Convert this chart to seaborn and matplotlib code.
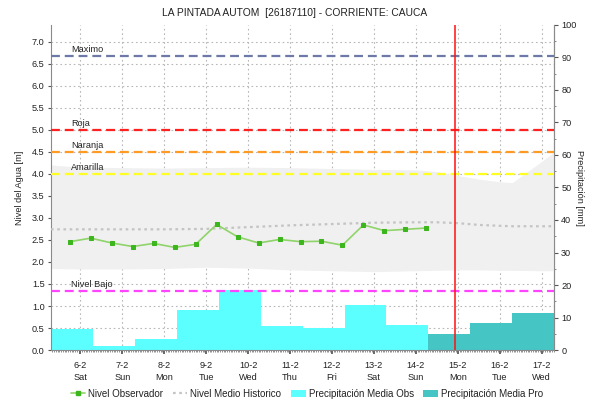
import matplotlib
matplotlib.use("Agg")
import matplotlib.pyplot as plt
from matplotlib.lines import Line2D
from matplotlib.patches import Patch
from matplotlib.ticker import MultipleLocator
import seaborn as sns
import pandas as pd

sns.set_theme(style="white")
plt.rcParams["font.family"] = ["Liberation Sans", "DejaVu Sans"]

# ---- data (x in day-of-month, February) ----
title = "LA PINTADA AUTOM  [26187110] - CORRIENTE: CAUCA"

obs_time = [5.75, 6.25, 6.75, 7.25, 7.75, 8.25, 8.75, 9.25, 9.75,
            10.25, 10.75, 11.25, 11.75, 12.25, 12.75, 13.25, 13.75, 14.25]
obs_level = [2.46, 2.54, 2.43, 2.35, 2.42, 2.33, 2.40, 2.85, 2.57,
             2.43, 2.51, 2.46, 2.47, 2.38, 2.84, 2.71, 2.74, 2.77]

hist_time = [5.3, 6, 7, 8, 9, 10, 11, 12, 13, 14, 14.5, 15, 15.5, 16, 16.3, 17, 17.3]
hist_median = [2.74, 2.74, 2.74, 2.74, 2.75, 2.79, 2.83, 2.86, 2.89, 2.90, 2.90,
               2.88, 2.84, 2.82, 2.81, 2.81, 2.81]
hist_upper = [4.20, 4.15, 4.14, 4.13, 4.14, 4.15, 4.14, 4.12, 4.10, 4.09, 4.05,
              3.96, 3.88, 3.82, 3.80, 4.28, 4.50]
hist_lower = [1.85, 1.84, 1.84, 1.85, 1.88, 1.86, 1.82, 1.80, 1.78, 1.80, 1.81,
              1.82, 1.82, 1.81, 1.81, 1.80, 1.80]

obs_days = [6, 7, 8, 9, 10, 11, 12, 13, 14]
obs_precip = [6.4, 1.3, 3.5, 12.4, 18.4, 7.5, 6.7, 13.8, 7.7]
pro_days = [15, 16, 17]
pro_precip = [4.9, 8.4, 11.5]

thr_names = ["Maximo", "Roja", "Naranja", "Amarilla", "Nivel Bajo"]
thr_levels = [6.68, 5.0, 4.5, 4.0, 1.35]
thr_colors = ["#6d7aa8", "#ff2020", "#ff9a22", "#ffff22", "#ff44ff"]

tick_days = [6, 7, 8, 9, 10, 11, 12, 13, 14, 15, 16, 17]
tick_names = ["Sat", "Sun", "Mon", "Tue", "Wed", "Thu", "Fri",
              "Sat", "Sun", "Mon", "Tue", "Wed"]
now_day = 14.93

level_max = 7.38
precip_max = 100.0


def mm_to_m(v):
    return v * level_max / precip_max


def m_to_mm(v):
    return v * precip_max / level_max


fig = plt.figure(figsize=(5.90, 4.01), dpi=100)
ax = fig.add_axes([0.0864, 0.127, 0.853, 0.811])
ax.set_xlim(5.3, 17.3)
ax.set_ylim(0, level_max)

txt = "#222222"
# grid
ax.xaxis.set_major_locator(plt.FixedLocator(tick_days))
ax.yaxis.set_major_locator(MultipleLocator(0.5))
ax.grid(True, which="major", color="#b8b8b8", linestyle=(0, (1.5, 2.5)), linewidth=0.8, zorder=0)

# historical band
ax.fill_between(hist_time, hist_lower, hist_upper, color="#f0f0f0", linewidth=0, zorder=1)

# precipitation bars (day window ends in the morning of the labelled day)
ax.bar([d - 0.7 for d in obs_days], [mm_to_m(v) for v in obs_precip], width=1.0,
       align="edge", color="#5cffff", linewidth=0, zorder=2)
ax.bar([d - 0.7 for d in pro_days], [mm_to_m(v) for v in pro_precip], width=1.0,
       align="edge", color="#46c5c5", linewidth=0, zorder=2)

# historical median
med = pd.DataFrame({"t": hist_time, "v": hist_median})
sns.lineplot(data=med, x="t", y="v", ax=ax, color="#c4c4c4",
             linestyle=(0, (1.2, 1.6)), linewidth=1.6, zorder=3)

# threshold lines and labels
for name, lvl, col in zip(thr_names, thr_levels, thr_colors):
    ax.axhline(lvl, color=col, linestyle=(0, (4, 2.2)), linewidth=1.6, zorder=4)
    ax.text(5.78, lvl + 0.04, name, fontsize=6.6, color=txt, va="bottom", ha="left", zorder=6)

# observed level
obs = pd.DataFrame({"t": obs_time, "v": obs_level})
sns.lineplot(data=obs, x="t", y="v", ax=ax, color="#8fd36a", linewidth=1.2,
             marker="s", markersize=2.8, markerfacecolor="#3db61e",
             markeredgecolor="#3db61e", zorder=5)

# current time marker
ax.axvline(now_day, color="#ff1010", linewidth=1.1, zorder=6)

# axes styling
ax.spines["top"].set_visible(False)
for s in ["left", "bottom", "right"]:
    ax.spines[s].set_color("#8a8a8a")
    ax.spines[s].set_linewidth(0.8)

ax.set_xticks(tick_days)
ax.set_xticklabels([f"{d}-2\n{n}" for d, n in zip(tick_days, tick_names)],
                   fontsize=6.6, color=txt, linespacing=1.35)
ax.xaxis.set_minor_locator(MultipleLocator(1 / 24))
ax.tick_params(axis="x", which="major", bottom=True, length=3, pad=5, color="#555555")
ax.tick_params(axis="x", which="minor", length=1.5, width=0.5, color="#666666", bottom=True)
ax.set_yticks([i * 0.5 for i in range(15)])
ax.set_yticklabels([f"{i * 0.5:.1f}" for i in range(15)], fontsize=6.6, color=txt)
ax.tick_params(axis="y", which="major", left=True, length=2.5, width=0.8, pad=2, color="#555555")
ax.set_xlabel("")
ax.set_ylabel("Nivel del Agua [m]", fontsize=6.6, color=txt, labelpad=6)

sec = ax.secondary_yaxis("right", functions=(m_to_mm, mm_to_m))
sec.set_yticks(list(range(0, 101, 10)))
sec.set_yticklabels([str(v) for v in range(0, 101, 10)], fontsize=6.6, color=txt)
sec.yaxis.set_minor_locator(MultipleLocator(5))
sec.tick_params(axis="y", which="major", right=True, length=3, width=0.8, pad=2, color="#555555")
sec.tick_params(axis="y", which="minor", right=True, length=1.5, width=0.6, color="#777777")
sec.spines["right"].set_color("#8a8a8a")
sec.spines["right"].set_linewidth(0.8)
sec.set_ylabel("Precipitación [mm]", fontsize=6.6, color=txt, rotation=270, labelpad=5)

fig.text(0.5, 0.968, title, ha="center", va="center", fontsize=7.4, color=txt)

handles = [
    Line2D([0], [0], color="#8fd36a", linewidth=1.2, marker="s", markersize=2.8,
           markerfacecolor="#3db61e", markeredgecolor="#3db61e"),
    Line2D([0], [0], color="#c4c4c4", linewidth=1.6, linestyle=(0, (1.2, 1.6))),
    Patch(facecolor="#5cffff", edgecolor="none"),
    Patch(facecolor="#46c5c5", edgecolor="none"),
]
labels = ["Nivel Observador", "Nivel Medio Historico",
          "Precipitación Media Obs", "Precipitación Media Pro"]
fig.legend(handles, labels, loc="center", bbox_to_anchor=(0.52, 0.018), ncol=4,
           frameon=False, fontsize=7.0, handlelength=1.5, handletextpad=0.3,
           columnspacing=1.0, labelcolor=txt)

fig.savefig("out.png", dpi=100, facecolor="white")
